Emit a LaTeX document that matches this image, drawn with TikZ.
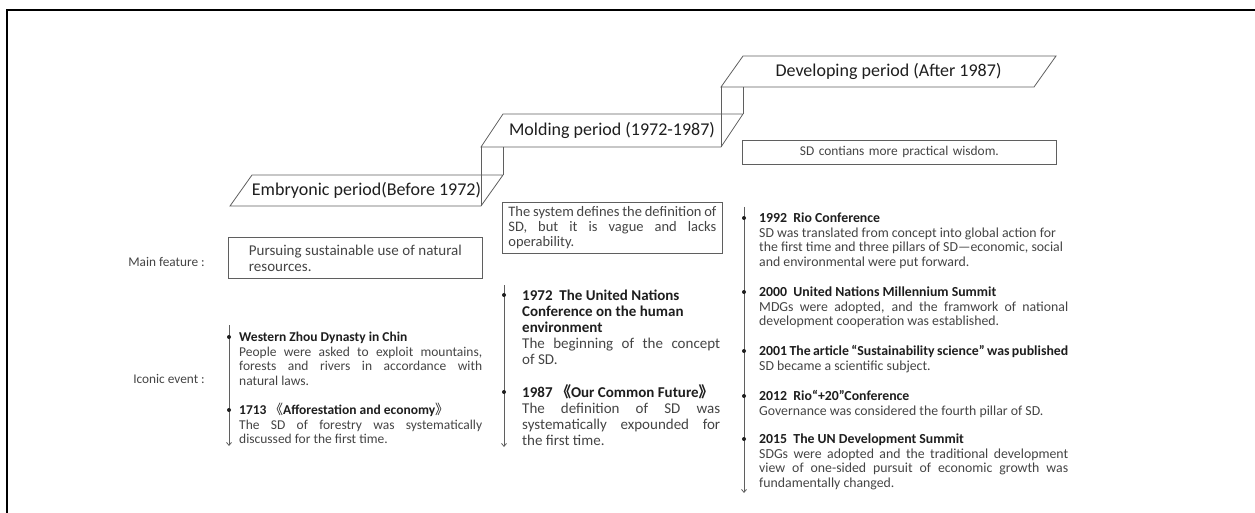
\documentclass[tikz,border=0pt]{standalone}
\usepackage{fontspec}
\setmainfont{Carlito}
\newfontfamily\cjk{Noto Sans CJK SC}
\usepackage{xcolor}
\usetikzlibrary{arrows.meta,calc,positioning}
\definecolor{txtgray}{RGB}{68, 68, 68}
\definecolor{headgray}{RGB}{30, 30, 30}
\definecolor{linegray}{RGB}{95, 95, 95}
\def\slant{22}
\newcommand{\periodstep}[6]{
  \draw[stepline] (#2,#3) coordinate (#1bl) -- ++(#4,0) coordinate (#1br)
    -- ++(\slant,-#5) coordinate (#1tr) -- ++(-#4,0) coordinate (#1tl) -- cycle;
  \node[steptext] (#1) at ($(#1bl)!0.5!(#1tr)$) {#6};
}
\tikzset{>={Straight Barb[length=3pt,width=5pt]}}
\tikzset{
  frame/.style = {line width=2.2pt, black},
  stepline/.style = {draw=linegray, line width=0.8pt},
  steptext/.style = {inner sep=0, text=headgray, font=\fontsize{18}{20}\selectfont},
  rowlabel/.style = {anchor=base east, inner sep=0, text=txtgray, font=\fontsize{13.3}{15}\selectfont},
  featbox/.style = {draw=linegray, line width=0.8pt, anchor=north west, inner ysep=0,
    text=txtgray, align=justify},
  timeline/.style = {draw=linegray, line width=0.8pt, ->},
  dot/.style = {circle, fill=headgray, inner sep=0, minimum size=4pt},
  event/.style = {anchor=base west, inner sep=0, align=justify, text=txtgray},
  embev/.style = {event, text width=243pt, font=\fontsize{13.5}{14.5}\selectfont},
  moldev/.style = {event, text width=198pt, font=\fontsize{15}{16}\selectfont},
  devev/.style = {event, text width=309pt, font=\fontsize{13.8}{14.7}\selectfont}
}
\newcommand{\hd}[1]{{\bfseries\color{headgray}#1}}

\begin{document}
\begin{tikzpicture}[x=1pt,y=-1pt]
  \useasboundingbox (0,0) rectangle (1255,513);
  \draw[frame] (7,513) -- (7,10) -- (1255,10);

  % the three steps
  \periodstep{emb}{230}{206}{251}{31}{Embryonic period(Before 1972)}
  \periodstep{mold}{481}{147}{240}{33}{Molding period (1972-1987)}
  \periodstep{dev}{721}{87}{313}{31}{Developing period (After 1987)}
  \draw[stepline] (moldbl) -- (embbr);
  \draw[stepline] (moldbl -| embtr) -- (embtr);
  \draw[stepline] (devbl) -- (moldbr);
  \draw[stepline] (devbl -| moldtr) -- (moldtr);

  % row labels
  \node[rowlabel] (mainlbl) at (205,266) {Main feature :};
  \node[rowlabel] (iconlbl) at (205,383) {Iconic event :};

  % main features
  \node[featbox, text width=213pt, inner xsep=20.5pt, minimum height=41pt,
    font=\fontsize{15}{16}\selectfont] (embfeat) at (228,237)
    {Pursuing sustainable use of natural\linebreak resources.};
  \node[featbox, text width=208pt, inner xsep=6pt, minimum height=51pt,
    font=\fontsize{14.5}{15}\selectfont] (moldfeat) at (502,202)
    {The system defines the definition of\linebreak SD, but it is vague and lacks\linebreak operability.};
  \node[featbox, text width=300pt, inner xsep=7pt, minimum height=24pt, align=center,
    font=\fontsize{13.4}{15}\selectfont] (devfeat) at (742,140)
    {SD contians more practical wisdom.};

  % embryonic events
  \coordinate (embtop) at (229,325);
  \coordinate (embend) at (229,446);
  \draw[timeline] (embtop) -- (embend);
  \node[embev] (emb1) at (239,341.5) {\hd{Western Zhou Dynasty in Chin}\\
    People were asked to exploit mountains,\linebreak forests and rivers in accordance with\linebreak natural laws.};
  \node[embev] (emb2) at (239,414.5) {\hd{1713 {\cjk\mdseries 《}Afforestation and economy{\cjk\mdseries 》}}\\
    The SD of forestry was systematically\linebreak discussed for the first time.};
  \node[dot] (emb1dot) at (229,337) {};
  \node[dot] (emb2dot) at (229,410) {};

  % molding events
  \coordinate (moldtop) at (504,285);
  \coordinate (moldend) at (504,447);
  \draw[timeline] (moldtop) -- (moldend);
  \node[moldev] (mold1) at (522,300) {\hd{1972~ The United Nations\\ Conference on the human\\ environment}\\
    The beginning of the concept\linebreak of SD.};
  \node[moldev] (mold2) at (522,397) {\hd{1987 {\cjk 《}Our Common Future{\cjk 》}}\\
    The definition of SD was\linebreak systematically expounded for\linebreak the first time.};
  \node[dot] (mold1dot) at (504,295) {};
  \node[dot] (mold2dot) at (504,392) {};

  % developing events
  \coordinate (devtop) at (744,207);
  \coordinate (devend) at (744,493);
  \draw[timeline] (devtop) -- (devend);
  \node[devev] (dev1) at (759,222.4) {\hd{1992~ Rio Conference}\\
    SD was translated from concept into global action for\\ the first time and three pillars of SD—economic, social\\ and environmental were put forward.};
  \node[devev] (dev2) at (759,296.4) {\hd{2000~ United Nations Millennium Summit}\\
    MDGs were adopted, and the framwork of national\linebreak development cooperation was established.};
  \node[devev] (dev3) at (759,355.4) {\hd{2001 The article “Sustainability science\symbol{34} was published}\\
    SD became a scientific subject.};
  \node[devev] (dev4) at (759,400.4) {\hd{2012~ Rio“+20”Conference}\\
    Governance was considered the fourth pillar of SD.};
  \node[devev] (dev5) at (759,443.4) {\hd{2015~ The UN Development Summit}\\
    SDGs were adopted and the traditional development\linebreak view of one-sided pursuit of economic growth was\linebreak fundamentally changed.};
  \foreach \ev/\yy in {1/218,2/292,3/351,4/396,5/439}
    \node[dot] (dev\ev dot) at (744,\yy) {};
\end{tikzpicture}
\end{document}
